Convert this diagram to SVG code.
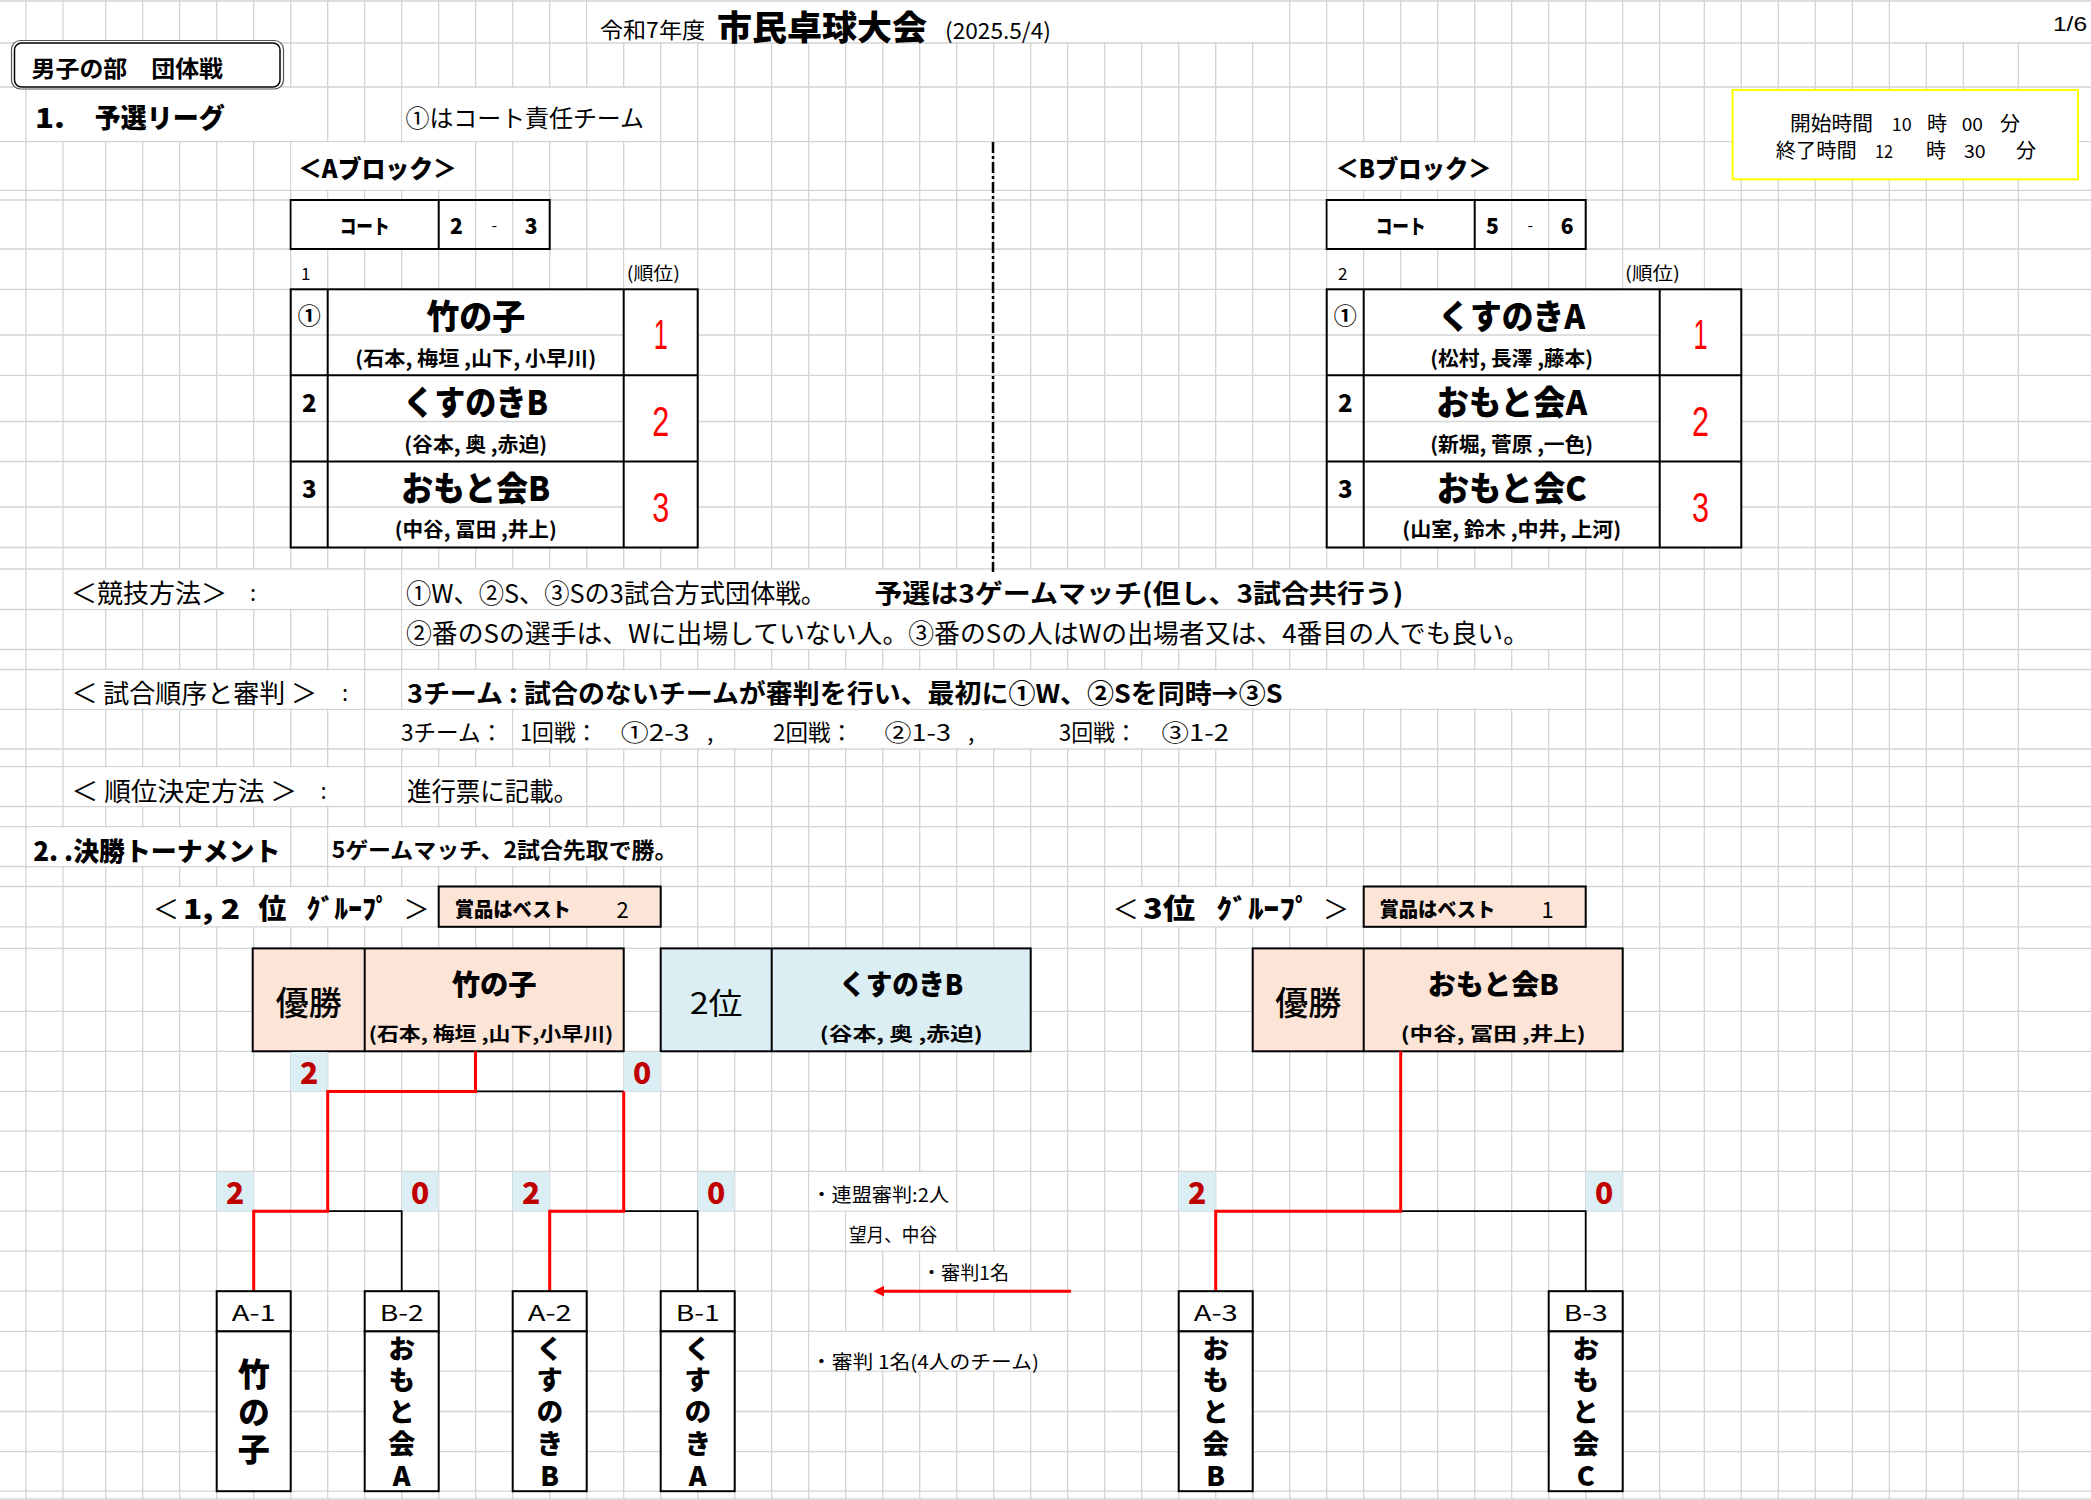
<svg xmlns="http://www.w3.org/2000/svg" width="2091" height="1500" viewBox="0 0 2091 1500">
<defs>
<style>
.grid{stroke:#d4d4d4;stroke-width:1.3;fill:none}
.w{fill:#fff}
.t{font-family:"Noto Sans CJK JP","Noto Sans",sans-serif;fill:#000;dominant-baseline:central}
.l{font-family:"Liberation Sans",Arial,sans-serif;fill:#000;dominant-baseline:central}
.h{font-weight:900}
.b{font-weight:700}
.m{text-anchor:middle}
.v{writing-mode:vertical-rl;text-orientation:upright;font-weight:900}
.rd{fill:#ff0000}
.dr{fill:#c00000}
.cell{fill:#fff;stroke:#000;stroke-width:2}
.ln{stroke:#000;stroke-width:2;fill:none}
.gl{stroke:#d4d4d4;stroke-width:1.3;fill:none}
.pe{fill:#fce4d6;stroke:#000;stroke-width:2}
.bl{fill:#daeef3;stroke:#000;stroke-width:2}
.sc{fill:#daeef3}
.red{stroke:#ff0000;stroke-width:3;fill:none}
.blk{stroke:#000;stroke-width:1.8;fill:none}
</style>
<marker id="ah" viewBox="0 0 10 10" refX="0" refY="5" markerWidth="3.6" markerHeight="3.6" orient="auto"><path d="M0,0L10,5L0,10z" fill="#ff0000"/></marker>
</defs>
<rect x="0" y="0" width="2091" height="1500" fill="#fff"/>
<g id="grid">
<path class="grid" d="M0 1H2091M0 43H2091M0 87H2091M0 141.7H2091M0 190.4H2091M0 200H2091M0 249H2091M0 289.3H2091M0 335H2091M0 375.3H2091M0 421.5H2091M0 461.5H2091M0 507H2091M0 547.5H2091M0 569H2091M0 609.5H2091M0 649.5H2091M0 669.5H2091M0 709.3H2091M0 749H2091M0 766.7H2091M0 806.5H2091M0 826.6H2091M0 866.5H2091M0 886.5H2091M0 926.8H2091M0 948.4H2091M0 1011.3H2091M0 1051.3H2091M0 1091.4H2091M0 1131.2H2091M0 1171.4H2091M0 1211.2H2091M0 1251.2H2091M0 1291.2H2091M0 1331.4H2091M0 1371.2H2091M0 1411.5H2091M0 1451.7H2091M0 1491.2H2091M0 1499H2091"/>
<path class="grid" d="M26 0V1500M63 0V1500M105.7 0V1500M142.7 0V1500M179.7 0V1500M216.7 0V1500M253.7 0V1500M290.7 0V1500M327.7 0V1500M364.7 0V1500M401.7 0V1500M438.7 0V1500M475.7 0V1500M512.7 0V1500M549.7 0V1500M586.7 0V1500M623.7 0V1500M660.7 0V1500M697.7 0V1500M734.7 0V1500M771.7 0V1500M808.7 0V1500M845.7 0V1500M882.7 0V1500M919.7 0V1500M956.7 0V1500M993.7 0V1500M1030.7 0V1500M1067.7 0V1500M1104.7 0V1500M1141.7 0V1500M1178.7 0V1500M1215.7 0V1500M1252.7 0V1500M1289.7 0V1500M1326.7 0V1500M1363.7 0V1500M1400.7 0V1500M1437.7 0V1500M1474.7 0V1500M1511.7 0V1500M1548.7 0V1500M1585.7 0V1500M1622.7 0V1500M1659.7 0V1500M1704.3 0V1500M1741.3 0V1500M1778.3 0V1500M1815.3 0V1500M1852.3 0V1500M1889.3 0V1500M1926.3 0V1500M1963.3 0V1500M2018.3 0V1500"/>
</g>
<g id="text-backgrounds">
<rect class="w" x="587" y="2" width="701" height="40"/>
<rect class="w" x="1890" y="2" width="201" height="40"/>
<rect class="w" x="27" y="88" width="299.7" height="52.9"/>
<rect class="w" x="402.5" y="88" width="257.4" height="52.9"/>
<rect class="w" x="291.5" y="142.5" width="183.4" height="47.1"/>
<rect class="w" x="1327.5" y="142.5" width="183.4" height="47.1"/>
<rect class="w" x="624.5" y="249.8" width="72.4" height="38.7"/>
<rect class="w" x="1623.5" y="249.8" width="80" height="38.7"/>
<rect class="w" x="64" y="569.8" width="299.9" height="38.9"/>
<rect class="w" x="402.5" y="569.8" width="1182.4" height="38.9"/>
<rect class="w" x="402.5" y="610.3" width="1182.4" height="38.4"/>
<rect class="w" x="64" y="670.3" width="299.9" height="38.2"/>
<rect class="w" x="402.5" y="670.3" width="1182.4" height="38.2"/>
<rect class="w" x="365.5" y="710.1" width="146.4" height="38.1"/>
<rect class="w" x="513.5" y="710.1" width="737.4" height="38.1"/>
<rect class="w" x="64" y="767.5" width="299.9" height="38.2"/>
<rect class="w" x="402.5" y="767.5" width="183.4" height="38.2"/>
<rect class="w" x="27" y="827.4" width="262.5" height="38.3"/>
<rect class="w" x="328.5" y="827.4" width="368.4" height="38.3"/>
<rect class="w" x="143.5" y="887.3" width="294.4" height="38.7"/>
<rect class="w" x="1105.5" y="887.3" width="257.4" height="38.7"/>
<rect class="w" x="809.5" y="1172.2" width="146.4" height="38.2"/>
<rect class="w" x="846.5" y="1212" width="109.4" height="38.4"/>
<rect class="w" x="920.5" y="1252" width="109.4" height="38.4"/>
<rect class="w" x="809.5" y="1332.2" width="257.4" height="38.2"/>
</g>
<g id="title">
<text class="t" x="600" y="28" font-size="22" textLength="105" lengthAdjust="spacingAndGlyphs">令和7年度</text>
<text class="t h" x="717" y="25.5" font-size="34" textLength="210" lengthAdjust="spacingAndGlyphs">市民卓球大会</text>
<text class="t" x="945" y="29" font-size="22" textLength="106" lengthAdjust="spacingAndGlyphs">(2025.5/4)</text>
</g>
<g id="page-number"><text class="l" x="2053" y="24" font-size="20" textLength="34" lengthAdjust="spacingAndGlyphs">1/6</text></g>
<g id="section-label">
<rect x="11.5" y="40.5" width="272" height="48.5" rx="9" fill="#fff" stroke="#555" stroke-width="1.2"/>
<rect x="14.5" y="43" width="265.5" height="44" rx="7" fill="none" stroke="#000" stroke-width="1.5"/>
<text class="t b" x="31.6" y="66.5" font-size="23" textLength="191.4" lengthAdjust="spacingAndGlyphs">男子の部　団体戦</text>
</g>
<g id="heading-1">
<text class="t h" x="35" y="116" font-size="27" textLength="30" lengthAdjust="spacingAndGlyphs">1.</text>
<text class="t h" x="94.7" y="116" font-size="27" textLength="130" lengthAdjust="spacingAndGlyphs">予選リーグ</text>
</g>
<g id="court-note"><text class="t" x="405.5" y="116.7" font-size="24" textLength="238.5" lengthAdjust="spacingAndGlyphs">①はコート責任チーム</text></g>
<g id="time-box">
<rect x="1732.6" y="90" width="345.4" height="89.3" fill="#fff" stroke="#ffff00" stroke-width="2"/>
<text class="t" x="1790" y="122" font-size="20" textLength="83" lengthAdjust="spacingAndGlyphs">開始時間</text>
<text class="t" x="1891.7" y="123" font-size="18" textLength="20" lengthAdjust="spacingAndGlyphs">10</text>
<text class="t" x="1927" y="122" font-size="20">時</text>
<text class="t" x="1961.7" y="123" font-size="18" textLength="21.3" lengthAdjust="spacingAndGlyphs">00</text>
<text class="t" x="2000" y="122" font-size="20">分</text>
<text class="t" x="1775.8" y="149" font-size="20" textLength="81" lengthAdjust="spacingAndGlyphs">終了時間</text>
<text class="t" x="1875" y="150" font-size="18" textLength="18" lengthAdjust="spacingAndGlyphs">12</text>
<text class="t" x="1926" y="149" font-size="20">時</text>
<text class="t" x="1964" y="150" font-size="18" textLength="21.7" lengthAdjust="spacingAndGlyphs">30</text>
<text class="t" x="2016" y="149" font-size="20">分</text>
</g>
<g id="divider"><path d="M993 142V572" stroke="#000" stroke-width="2.5" stroke-dasharray="11 3 3 3" fill="none"/></g>
<g id="blockA-label"><text class="t h" x="298" y="167" font-size="25" textLength="159" lengthAdjust="spacingAndGlyphs">＜Aブロック＞</text></g>
<g id="blockA-court">
<rect x="290.7" y="200" width="259" height="49" fill="none" stroke="#000" stroke-width="2"/>
<rect class="w" x="291.7" y="201" width="146" height="47"/>
<path class="ln" d="M438.7 200V249"/>
<text class="t h m" x="364.7" y="225" font-size="20" textLength="50" lengthAdjust="spacingAndGlyphs">コート</text>
<text class="t h m" x="456.5" y="225" font-size="21">2</text>
<text class="t m" x="494.2" y="224" font-size="16">-</text>
<text class="t h m" x="531.2" y="225" font-size="21">3</text>
</g>
<g id="blockA-header">
<text class="t" x="301" y="272" font-size="17">1</text>
<text class="t" x="626.7" y="272" font-size="18" textLength="53.3" lengthAdjust="spacingAndGlyphs">(順位)</text>
</g>
<g id="blockA-table">
<rect class="w" x="327.7" y="289.3" width="370" height="258.2"/>
<path class="gl" d="M327.7 335H623.7M327.7 421.5H623.7M327.7 507H623.7"/>
<rect x="290.7" y="289.3" width="407" height="258.2" fill="none" stroke="#000" stroke-width="2"/>
<path class="ln" d="M327.7 289.3V547.5M623.7 289.3V547.5M290.7 375.3H697.7M290.7 461.5H697.7"/>
</g>
<g id="teamA1">
<text class="t b m" x="309.2" y="314" font-size="23">①</text>
<text class="t h m" x="475.7" y="314" font-size="34" textLength="99" lengthAdjust="spacingAndGlyphs">竹の子</text>
<text class="t b m" x="475.7" y="357" font-size="20" textLength="241" lengthAdjust="spacingAndGlyphs">(石本, 梅垣 ,山下, 小早川)</text>
<text class="l m rd" x="660.7" y="334" font-size="42" textLength="14" lengthAdjust="spacingAndGlyphs">1</text>
</g>
<g id="teamA2">
<text class="t h m" x="309.2" y="401" font-size="24">2</text>
<text class="t h m" x="475.7" y="400" font-size="34" textLength="145" lengthAdjust="spacingAndGlyphs">くすのきB</text>
<text class="t b m" x="475.7" y="443" font-size="20" textLength="143" lengthAdjust="spacingAndGlyphs">(谷本, 奥 ,赤迫)</text>
<text class="l m rd" x="660.7" y="421" font-size="42" textLength="17" lengthAdjust="spacingAndGlyphs">2</text>
</g>
<g id="teamA3">
<text class="t h m" x="309.2" y="487" font-size="24">3</text>
<text class="t h m" x="475.7" y="486" font-size="34" textLength="149" lengthAdjust="spacingAndGlyphs">おもと会B</text>
<text class="t b m" x="475.7" y="528.5" font-size="20" textLength="162" lengthAdjust="spacingAndGlyphs">(中谷, 冨田 ,井上)</text>
<text class="l m rd" x="660.7" y="507" font-size="42" textLength="17" lengthAdjust="spacingAndGlyphs">3</text>
</g>
<g id="blockB-label"><text class="t h" x="1335.5" y="167" font-size="25" textLength="156" lengthAdjust="spacingAndGlyphs">＜Bブロック＞</text></g>
<g id="blockB-court">
<rect x="1326.7" y="200" width="259" height="49" fill="none" stroke="#000" stroke-width="2"/>
<rect class="w" x="1327.7" y="201" width="146" height="47"/>
<path class="ln" d="M1474.7 200V249"/>
<text class="t h m" x="1400.7" y="225" font-size="20" textLength="50" lengthAdjust="spacingAndGlyphs">コート</text>
<text class="t h m" x="1492.5" y="225" font-size="21">5</text>
<text class="t m" x="1530.2" y="224" font-size="16">-</text>
<text class="t h m" x="1567.2" y="225" font-size="21">6</text>
</g>
<g id="blockB-header">
<text class="t" x="1338" y="272" font-size="17">2</text>
<text class="t" x="1625" y="272" font-size="18" textLength="55" lengthAdjust="spacingAndGlyphs">(順位)</text>
</g>
<g id="blockB-table">
<rect class="w" x="1363.7" y="289.3" width="377.6" height="258.2"/>
<path class="gl" d="M1363.7 335H1659.7M1363.7 421.5H1659.7M1363.7 507H1659.7"/>
<rect x="1326.7" y="289.3" width="414.6" height="258.2" fill="none" stroke="#000" stroke-width="2"/>
<path class="ln" d="M1363.7 289.3V547.5M1659.7 289.3V547.5M1326.7 375.3H1741.3M1326.7 461.5H1741.3"/>
</g>
<g id="teamB1">
<text class="t b m" x="1345.2" y="314" font-size="23">①</text>
<text class="t h m" x="1511.7" y="314" font-size="34" textLength="147" lengthAdjust="spacingAndGlyphs">くすのきA</text>
<text class="t b m" x="1511.7" y="357" font-size="20" textLength="163" lengthAdjust="spacingAndGlyphs">(松村, 長澤 ,藤本)</text>
<text class="l m rd" x="1700.5" y="334" font-size="42" textLength="14" lengthAdjust="spacingAndGlyphs">1</text>
</g>
<g id="teamB2">
<text class="t h m" x="1345.2" y="401" font-size="24">2</text>
<text class="t h m" x="1511.7" y="400" font-size="34" textLength="151" lengthAdjust="spacingAndGlyphs">おもと会A</text>
<text class="t b m" x="1511.7" y="443" font-size="20" textLength="163" lengthAdjust="spacingAndGlyphs">(新堀, 菅原 ,一色)</text>
<text class="l m rd" x="1700.5" y="421" font-size="42" textLength="17" lengthAdjust="spacingAndGlyphs">2</text>
</g>
<g id="teamB3">
<text class="t h m" x="1345.2" y="487" font-size="24">3</text>
<text class="t h m" x="1511.7" y="486" font-size="34" textLength="150" lengthAdjust="spacingAndGlyphs">おもと会C</text>
<text class="t b m" x="1511.7" y="528.5" font-size="20" textLength="219" lengthAdjust="spacingAndGlyphs">(山室, 鈴木 ,中井, 上河)</text>
<text class="l m rd" x="1700.5" y="507" font-size="42" textLength="17" lengthAdjust="spacingAndGlyphs">3</text>
</g>
<g id="rules">
<text class="t" x="71" y="591" font-size="26" textLength="156" lengthAdjust="spacingAndGlyphs">＜競技方法＞</text>
<text class="t" x="250" y="591" font-size="22">:</text>
<text class="t" x="406" y="591" font-size="26" textLength="420" lengthAdjust="spacingAndGlyphs">①W、②S、③Sの3試合方式団体戦。</text>
<text class="t b" x="874.4" y="591" font-size="26" textLength="529" lengthAdjust="spacingAndGlyphs">予選は3ゲームマッチ(但し、3試合共行う)</text>
<text class="t" x="406" y="631.7" font-size="26" textLength="1123" lengthAdjust="spacingAndGlyphs">②番のSの選手は、Wに出場していない人。③番のSの人はWの出場者又は、4番目の人でも良い。</text>
<text class="t" x="71.5" y="691" font-size="26" textLength="245.5" lengthAdjust="spacingAndGlyphs">＜ 試合順序と審判 ＞</text>
<text class="t" x="342" y="691" font-size="22">:</text>
<text class="t b" x="407" y="691" font-size="26" textLength="875.5" lengthAdjust="spacingAndGlyphs">3チーム : 試合のないチームが審判を行い、最初に①W、②Sを同時→③S</text>
<text class="t" x="401" y="730.5" font-size="23" textLength="102" lengthAdjust="spacingAndGlyphs">3チーム：</text>
<text class="t" x="520" y="730.5" font-size="23" textLength="77.5" lengthAdjust="spacingAndGlyphs">1回戦：</text>
<text class="t" x="620.7" y="730.5" font-size="23" textLength="68.8" lengthAdjust="spacingAndGlyphs">①2-3</text>
<text class="t" x="707" y="730.5" font-size="23">,</text>
<text class="t" x="773" y="730.5" font-size="23" textLength="80" lengthAdjust="spacingAndGlyphs">2回戦：</text>
<text class="t" x="884.6" y="730.5" font-size="23" textLength="66.4" lengthAdjust="spacingAndGlyphs">②1-3</text>
<text class="t" x="968" y="730.5" font-size="23">,</text>
<text class="t" x="1059" y="730.5" font-size="23" textLength="78" lengthAdjust="spacingAndGlyphs">3回戦：</text>
<text class="t" x="1161.6" y="730.5" font-size="23" textLength="67.4" lengthAdjust="spacingAndGlyphs">③1-2</text>
<text class="t" x="71.5" y="789" font-size="26" textLength="225.5" lengthAdjust="spacingAndGlyphs">＜ 順位決定方法 ＞</text>
<text class="t" x="320.6" y="789" font-size="22">:</text>
<text class="t" x="407" y="789" font-size="26" textLength="171" lengthAdjust="spacingAndGlyphs">進行票に記載。</text>
</g>
<g id="heading-2">
<text class="t h" x="33.3" y="849" font-size="26" textLength="247" lengthAdjust="spacingAndGlyphs">2. .決勝トーナメント</text>
<text class="t b" x="331.7" y="848" font-size="22" textLength="345.7" lengthAdjust="spacingAndGlyphs">5ゲームマッチ、2試合先取で勝。</text>
</g>
<g id="group12-label">
<text class="t m" x="166" y="907" font-size="26">＜</text>
<text class="t h" x="183" y="907" font-size="27" textLength="57" lengthAdjust="spacingAndGlyphs">1, 2</text>
<text class="t h m" x="272.3" y="907" font-size="28">位</text>
<text class="t h" x="306.7" y="907" font-size="27" textLength="83" lengthAdjust="spacingAndGlyphs">ｸﾞﾙｰﾌﾟ</text>
<text class="t m" x="416.5" y="907" font-size="26">＞</text>
</g>
<g id="prize-12">
<rect class="pe" x="438.7" y="886.5" width="222" height="40.3"/>
<text class="t h" x="454.7" y="908" font-size="20" textLength="116" lengthAdjust="spacingAndGlyphs">賞品はベスト</text>
<text class="t m" x="622.6" y="908" font-size="22">2</text>
</g>
<g id="group3-label">
<text class="t m" x="1125.7" y="907" font-size="26">＜</text>
<text class="t h" x="1143" y="907" font-size="28" textLength="52" lengthAdjust="spacingAndGlyphs">3位</text>
<text class="t h" x="1216.6" y="907" font-size="27" textLength="94" lengthAdjust="spacingAndGlyphs">ｸﾞﾙｰﾌﾟ</text>
<text class="t m" x="1336" y="907" font-size="26">＞</text>
</g>
<g id="prize-3">
<rect class="pe" x="1363.7" y="886.5" width="222" height="40.3"/>
<text class="t h" x="1379.4" y="908" font-size="20" textLength="116" lengthAdjust="spacingAndGlyphs">賞品はベスト</text>
<text class="t m" x="1547.5" y="908" font-size="22">1</text>
</g>
<g id="champion-12">
<rect class="pe" x="252.7" y="948.4" width="371" height="102.9"/>
<path class="ln" d="M364.7 948.4V1051.3"/>
<text class="t m" x="308.7" y="1001" font-size="33" font-weight="500">優勝</text>
<text class="t h m" x="494.2" y="982.5" font-size="28" textLength="85" lengthAdjust="spacingAndGlyphs">竹の子</text>
<text class="t b m" x="491" y="1032.7" font-size="19" textLength="244.6" lengthAdjust="spacingAndGlyphs">(石本, 梅垣 ,山下,小早川)</text>
</g>
<g id="second-12">
<rect class="bl" x="660.7" y="948.4" width="370" height="102.9"/>
<path class="ln" d="M771.7 948.4V1051.3"/>
<text class="t m" x="716.2" y="1001" font-size="30" textLength="53" lengthAdjust="spacingAndGlyphs">2位</text>
<text class="t h m" x="901.2" y="982.5" font-size="28" textLength="124" lengthAdjust="spacingAndGlyphs">くすのきB</text>
<text class="t b m" x="901.2" y="1032.7" font-size="19" textLength="163" lengthAdjust="spacingAndGlyphs">(谷本, 奥 ,赤迫)</text>
</g>
<g id="champion-3">
<rect class="pe" x="1252.7" y="948.4" width="370" height="102.9"/>
<path class="ln" d="M1363.7 948.4V1051.3"/>
<text class="t m" x="1308.2" y="1001" font-size="33" font-weight="500">優勝</text>
<text class="t h m" x="1493.2" y="982.5" font-size="28" textLength="131" lengthAdjust="spacingAndGlyphs">おもと会B</text>
<text class="t b m" x="1493.2" y="1032.7" font-size="19" textLength="185" lengthAdjust="spacingAndGlyphs">(中谷, 冨田 ,井上)</text>
</g>
<g id="scores">
<rect class="sc" x="290.7" y="1052" width="37" height="39.4"/>
<rect class="sc" x="623.7" y="1052" width="37" height="39.4"/>
<rect class="sc" x="216.7" y="1172" width="37" height="39.2"/>
<rect class="sc" x="401.7" y="1172" width="37" height="39.2"/>
<rect class="sc" x="512.7" y="1172" width="37" height="39.2"/>
<rect class="sc" x="697.7" y="1172" width="37" height="39.2"/>
<rect class="sc" x="1178.7" y="1172" width="37" height="39.2"/>
<rect class="sc" x="1585.7" y="1172" width="37" height="39.2"/>
<text class="t h m dr" x="309.2" y="1071.4" font-size="30">2</text>
<text class="t h m dr" x="642.2" y="1071.4" font-size="30">0</text>
<text class="t h m dr" x="235.2" y="1191.3" font-size="30">2</text>
<text class="t h m dr" x="420.2" y="1191.3" font-size="30">0</text>
<text class="t h m dr" x="531.2" y="1191.3" font-size="30">2</text>
<text class="t h m dr" x="716.2" y="1191.3" font-size="30">0</text>
<text class="t h m dr" x="1197.2" y="1191.3" font-size="30">2</text>
<text class="t h m dr" x="1604.2" y="1191.3" font-size="30">0</text>
</g>
<g id="connectors">
<path class="blk" d="M475.5 1091.4H623.7M327.7 1211.2H401.7V1291.2M623.7 1211.2H697.7V1291.2M1400.7 1211.2H1585.7V1291.2"/>
<path class="red" d="M475.5 1051.3V1091.4H327.7V1211.2H253.7V1291.2"/>
<path class="red" d="M623.7 1091.4V1211.2H549.7V1291.2"/>
<path class="red" d="M1400.7 1051.3V1211.2H1215.7V1291.2"/>
<line class="red" x1="1071" y1="1291.2" x2="884" y2="1291.2" marker-end="url(#ah)"/>
</g>
<g id="team-A1-slot">
<rect class="cell" x="216.7" y="1291.2" width="74" height="40.2"/>
<rect class="cell" x="216.7" y="1331.4" width="74" height="159.8"/>
<text class="t m" x="253.7" y="1311.3" font-size="22" textLength="44" lengthAdjust="spacingAndGlyphs">A-1</text>
<text class="t v" x="253.7" y="1358" font-size="32" letter-spacing="5.5">竹の子</text>
</g>
<g id="team-B2-slot">
<rect class="cell" x="364.7" y="1291.2" width="74" height="40.2"/>
<rect class="cell" x="364.7" y="1331.4" width="74" height="159.8"/>
<text class="t m" x="401.7" y="1311.3" font-size="22" textLength="44" lengthAdjust="spacingAndGlyphs">B-2</text>
<text class="t v" x="401.7" y="1335" font-size="27" letter-spacing="4.7">おもと会A</text>
</g>
<g id="team-A2-slot">
<rect class="cell" x="512.7" y="1291.2" width="74" height="40.2"/>
<rect class="cell" x="512.7" y="1331.4" width="74" height="159.8"/>
<text class="t m" x="549.7" y="1311.3" font-size="22" textLength="44" lengthAdjust="spacingAndGlyphs">A-2</text>
<text class="t v" x="549.7" y="1335" font-size="27" letter-spacing="4.7">くすのきB</text>
</g>
<g id="team-B1-slot">
<rect class="cell" x="660.7" y="1291.2" width="74" height="40.2"/>
<rect class="cell" x="660.7" y="1331.4" width="74" height="159.8"/>
<text class="t m" x="697.7" y="1311.3" font-size="22" textLength="44" lengthAdjust="spacingAndGlyphs">B-1</text>
<text class="t v" x="697.7" y="1335" font-size="27" letter-spacing="4.7">くすのきA</text>
</g>
<g id="team-A3-slot">
<rect class="cell" x="1178.7" y="1291.2" width="74" height="40.2"/>
<rect class="cell" x="1178.7" y="1331.4" width="74" height="159.8"/>
<text class="t m" x="1215.7" y="1311.3" font-size="22" textLength="44" lengthAdjust="spacingAndGlyphs">A-3</text>
<text class="t v" x="1215.7" y="1335" font-size="27" letter-spacing="4.7">おもと会B</text>
</g>
<g id="team-B3-slot">
<rect class="cell" x="1548.7" y="1291.2" width="74" height="40.2"/>
<rect class="cell" x="1548.7" y="1331.4" width="74" height="159.8"/>
<text class="t m" x="1585.7" y="1311.3" font-size="22" textLength="44" lengthAdjust="spacingAndGlyphs">B-3</text>
<text class="t v" x="1585.7" y="1335" font-size="27" letter-spacing="4.7">おもと会C</text>
</g>
<g id="referee-notes">
<text class="t" x="811.5" y="1193.4" font-size="19" textLength="137.5" lengthAdjust="spacingAndGlyphs">・連盟審判:2人</text>
<text class="t" x="849" y="1233.6" font-size="19" textLength="88" lengthAdjust="spacingAndGlyphs">望月、中谷</text>
<text class="t" x="922" y="1271.8" font-size="19" textLength="87" lengthAdjust="spacingAndGlyphs">・審判1名</text>
<text class="t" x="811" y="1360" font-size="19" textLength="228" lengthAdjust="spacingAndGlyphs">・審判 1名(4人のチーム)</text>
</g>
</svg>
